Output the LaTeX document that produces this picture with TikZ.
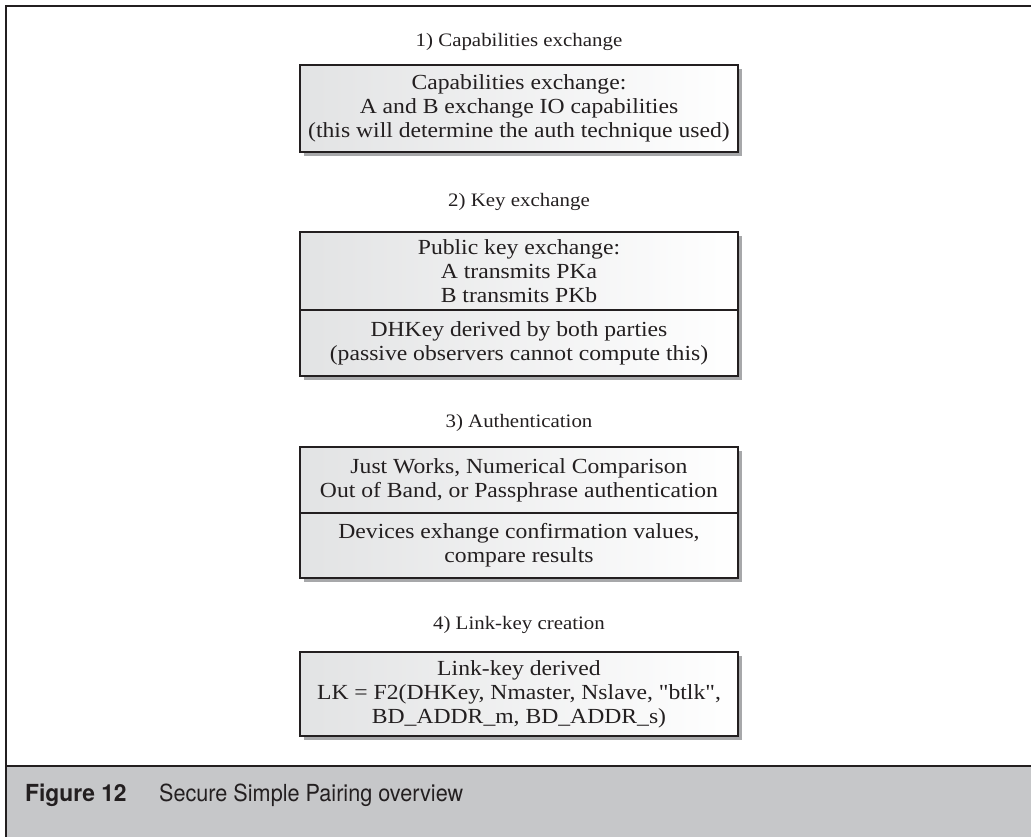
\documentclass[tikz,border=0pt]{standalone}
\usepackage{fontspec}
\setmainfont[FakeStretch=1.1, Ligatures=TeXOff]{Liberation Serif}
\newfontfamily\capfont{TeX Gyre Heros}
\definecolor{framec}{HTML}{231F20}
\definecolor{bandc}{HTML}{C6C7C9}
\definecolor{shadowc}{HTML}{A7A8AA}
\definecolor{boxleft}{HTML}{E2E3E4}
\tikzset{
  boxst/.style={draw=framec, line width=1.2pt, left color=boxleft, right color=white,
    minimum width=438pt, align=center, inner sep=0pt, text=framec,
    font=\fontsize{21.5}{24}\selectfont,
    preaction={fill=shadowc, transform canvas={shift={(4pt,-4pt)}}}},
  titlest/.style={font=\fontsize{19}{24}\selectfont, inner sep=0pt, text=framec},
  capst/.style={inner sep=0pt, anchor=base west, text=framec}
}
\begin{document}
\begin{tikzpicture}[x=1pt,y=-1pt]
\useasboundingbox (0,0) rectangle (1031,837);
\fill[white] (0,0) rectangle (1031,837);
% caption band
\fill[bandc] (6,766) rectangle (1031,837);
\draw[framec, line width=2.6pt] (6,766) -- (1031,766);
% outer frame
\draw[framec, line width=2.6pt] (1031,6) -- (6,6) -- (6,837);
% titles
\node[titlest] (t1) at (519,42) {1) Capabilities exchange};
\node[titlest] (t2) at (519,202) {2) Key exchange};
\node[titlest] (t3) at (519,423) {3) Authentication};
\node[titlest] (t4) at (519,625) {4) Link-key creation};
% box 1
\node[boxst, minimum height=87pt] (b1) at (519,108.5)
  {Capabilities exchange:\\A and B exchange IO capabilities\\(this will determine the auth technique used)};
% box 2
\node[boxst, minimum height=78pt] (b2a) at (519,271)
  {Public key exchange:\\A transmits PKa\\B transmits PKb};
\node[boxst, minimum height=66pt] (b2b) at (519,343)
  {DHKey derived by both parties\\(passive observers cannot compute this)};
% box 3
\node[boxst, minimum height=66pt] (b3a) at (519,480)
  {Just Works, Numerical Comparison\\Out of Band, or Passphrase authentication};
\node[boxst, minimum height=65pt] (b3b) at (519,545.5)
  {Devices exhange confirmation values,\\compare results};
% box 4
\node[boxst, minimum height=84pt] (b4) at (519,694)
  {Link-key derived\\LK = F2(DHKey, Nmaster, Nslave, "btlk",\\BD\_ADDR\_m, BD\_ADDR\_s)};
% caption
\node[capst] (cfig) at (25,801) {\scalebox{0.97}[1]{\capfont\fontsize{23.5}{28}\selectfont\bfseries Figure 12}};
\node[capst] (ctext) at (159,801) {\scalebox{0.92}[1]{\capfont\fontsize{23.5}{28}\selectfont Secure Simple Pairing overview}};
\end{tikzpicture}
\end{document}
